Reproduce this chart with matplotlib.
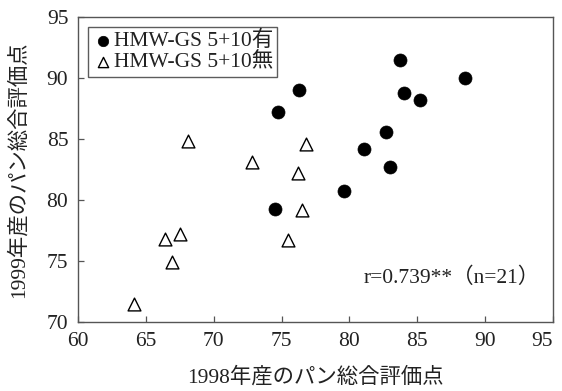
import matplotlib
matplotlib.use("Agg")
import matplotlib.pyplot as plt

plt.rcParams['font.family'] = ['Liberation Serif', 'Noto Sans CJK JP']

# HMW-GS 5+10 present (filled circles)
x_with = [83.7, 88.5, 84.0, 85.2, 76.3, 74.7, 82.7, 81.1, 83.0, 79.6, 74.5]
y_with = [91.5, 90.0, 88.8, 88.2, 89.0, 87.2, 85.6, 84.2, 82.7, 80.7, 79.3]
# HMW-GS 5+10 absent (open triangles)
x_without = [68.1, 72.8, 76.8, 76.2, 76.5, 75.5, 66.4, 67.5, 66.9, 64.1]
y_without = [84.8, 83.1, 84.6, 82.2, 79.2, 76.7, 76.8, 77.2, 74.9, 71.5]

xticks = [60, 65, 70, 75, 80, 85, 90, 95]
yticks = [70, 75, 80, 85, 90, 95]

fig = plt.figure(figsize=(5.62, 3.91), dpi=100)
ax = fig.add_axes([78 / 562, 1 - 322 / 391, 475 / 562, 305 / 391])

ax.scatter(x_with, y_with, s=88, marker='o', facecolor='black', edgecolor='black',
           linewidths=0.5, label='HMW-GS 5+10有', zorder=3)
ax.scatter(x_without, y_without, s=85, marker='^', facecolor='white', edgecolor='black',
           linewidths=1.0, label='HMW-GS 5+10無', zorder=3)

ax.set_xlim(60, 95)
ax.set_ylim(70, 95)
ax.set_xticks(xticks)
ax.set_yticks(yticks)
ax.tick_params(direction='in', labelsize=15.5, length=4, width=0.9,
               color='#555555', labelcolor='#222222', pad=7)
for sp in ax.spines.values():
    sp.set_linewidth(1.0)
    sp.set_color('#555555')

# keep the last x tick label inside the figure
ax.get_xticklabels()[-1].set_horizontalalignment('right')

ax.set_xlabel('1998年産のパン総合評価点', fontsize=15.4, color='#222222')
ax.set_ylabel('1999年産のパン総合評価点', fontsize=15.4, color='#222222')
ax.xaxis.label.set_va('center')
ax.yaxis.label.set_va('center')
ax.xaxis.set_label_coords(0.5, (322 - 377) / 305)
ax.yaxis.set_label_coords((18 - 78) / 475, 0.5)

leg = ax.legend(loc='upper left', fontsize=15.5, frameon=True, fancybox=False,
                edgecolor='#333333', handletextpad=0.0, borderpad=0.2,
                handlelength=1.0, labelspacing=0.05, borderaxespad=0.45,
                markerscale=0.8)
leg.get_frame().set_linewidth(1.0)
for t in leg.get_texts():
    t.set_color('#222222')

ax.text(94.0, 73.6, 'r=0.739**（n=21）', fontsize=15.5, ha='right', va='center',
        color='#222222')

fig.savefig('out.png', dpi=100)
